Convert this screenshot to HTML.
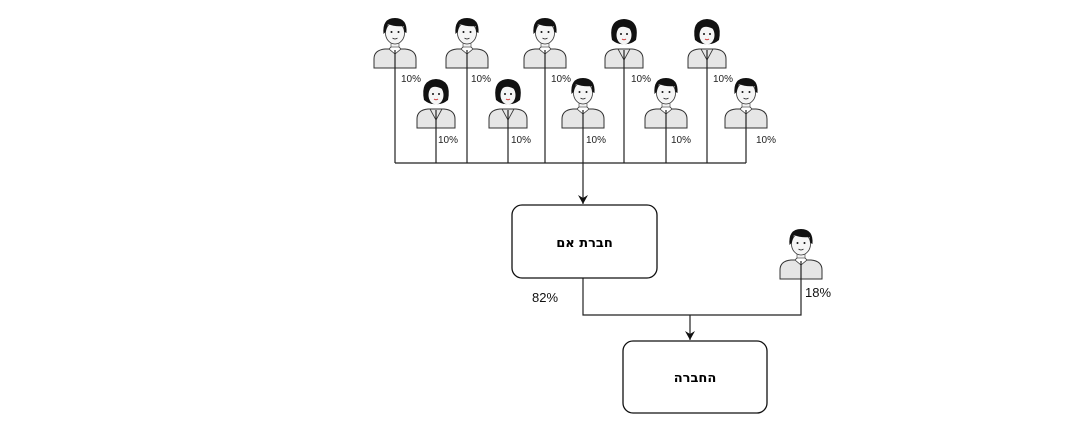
<!DOCTYPE html>
<html><head><meta charset="utf-8"><style>
html,body{margin:0;padding:0;background:#fff;}
svg{display:block;}
text{font-family:"Liberation Sans",sans-serif;}
</style></head><body>
<svg width="1076" height="435" viewBox="0 0 1076 435" xmlns="http://www.w3.org/2000/svg">
<defs>
<g id="m">
<path d="M-21,50 V41 Q-21,32 -10,31 L10,31 Q21,32 21,41 V50 Z" fill="#e6e6e6" stroke="#333" stroke-width="1"/>
<path d="M-6,31 L0,36 L6,31 L3,28 L-3,28 Z" fill="#fff" stroke="#333" stroke-width="0.8"/>
<rect x="-4" y="22" width="8" height="7" fill="#f2f2f2" stroke="#333" stroke-width="0.6"/>
<ellipse cx="0" cy="15" rx="9.5" ry="11" fill="#f5f5f5" stroke="#333" stroke-width="0.8"/>
<path d="M-11.5,16 Q-13,0 0,0 Q12.5,0 11.5,15 L9.5,14 L8.5,8 Q0,9 -7,6 L-9.5,14 Z" fill="#111"/>
<circle cx="-3.5" cy="14" r="1" fill="#111"/><circle cx="3.5" cy="14" r="1" fill="#111"/>
<path d="M-2.5,20 Q0,22 2.5,20" stroke="#111" fill="none" stroke-width="0.8"/>
</g>
<g id="f">
<path d="M-19,50 V41 Q-19,32 -8,31 L8,31 Q19,32 19,41 V50 Z" fill="#e6e6e6" stroke="#333" stroke-width="1"/>
<path d="M-6,31 L0,42 L6,31" fill="none" stroke="#333" stroke-width="0.8"/>
<path d="M-12,22 Q-16,2 0,1 Q16,2 12,22 Q6,27 0,26 Q-6,27 -12,22 Z" fill="#111"/>
<ellipse cx="0" cy="17" rx="7.5" ry="9.5" fill="#f5f5f5"/>
<path d="M-8,13 Q-3,5 8,12 L8,7 Q0,2 -8,8 Z" fill="#111"/>
<circle cx="-3" cy="16" r="1" fill="#111"/><circle cx="3" cy="16" r="1" fill="#111"/>
<path d="M-2,21 Q0,22.5 2,21" stroke="#c33" fill="none" stroke-width="1"/>
</g>
<marker id="a" markerWidth="10" markerHeight="10" refX="9" refY="5" orient="auto" markerUnits="userSpaceOnUse">
<path d="M0,0 L9,5 L0,10 L3,5 Z" fill="#111"/>
</marker>
</defs>

<use href="#m" x="395" y="18"/>
<use href="#m" x="467" y="18"/>
<use href="#m" x="545" y="18"/>
<use href="#f" x="624" y="18"/>
<use href="#f" x="707" y="18"/>
<use href="#f" x="436" y="78"/>
<use href="#f" x="508" y="78"/>
<use href="#m" x="583" y="78"/>
<use href="#m" x="666" y="78"/>
<use href="#m" x="746" y="78"/>
<use href="#m" x="801" y="229"/>

<g stroke="#222" stroke-width="1.2" fill="none">
<path d="M395,50 V163 M467,50 V163 M545,50 V163 M624,50 V163 M707,50 V163"/>
<path d="M436,110 V163 M508,110 V163 M666,110 V163 M746,110 V163"/>
<path d="M395,163 H746"/>
<path d="M583,110 V204" marker-end="url(#a)"/>
<path d="M583,278 V315 H801 V261"/>
<path d="M690,315 V340" marker-end="url(#a)"/>
</g>

<g font-size="10" fill="#222">
<text x="401" y="82">10%</text>
<text x="471" y="82">10%</text>
<text x="551" y="82">10%</text>
<text x="631" y="82">10%</text>
<text x="713" y="82">10%</text>
<text x="438" y="143">10%</text>
<text x="511" y="143">10%</text>
<text x="586" y="143">10%</text>
<text x="671" y="143">10%</text>
<text x="756" y="143">10%</text>
</g>
<text x="532" y="302" font-size="13" fill="#111">82%</text>
<text x="805" y="297" font-size="13" fill="#111">18%</text>

<rect x="512" y="205" width="145" height="73" rx="10" fill="#fff" stroke="#111" stroke-width="1.3"/>
<rect x="623" y="341" width="144" height="72" rx="10" fill="#fff" stroke="#111" stroke-width="1.3"/>
<text x="584.5" y="247" font-size="13" font-weight="bold" text-anchor="middle" direction="rtl" style="font-family:'DejaVu Sans',sans-serif">חברת אם</text>
<text x="695" y="382" font-size="13" font-weight="bold" text-anchor="middle" direction="rtl" style="font-family:'DejaVu Sans',sans-serif">החברה</text>
</svg>
</body></html>
